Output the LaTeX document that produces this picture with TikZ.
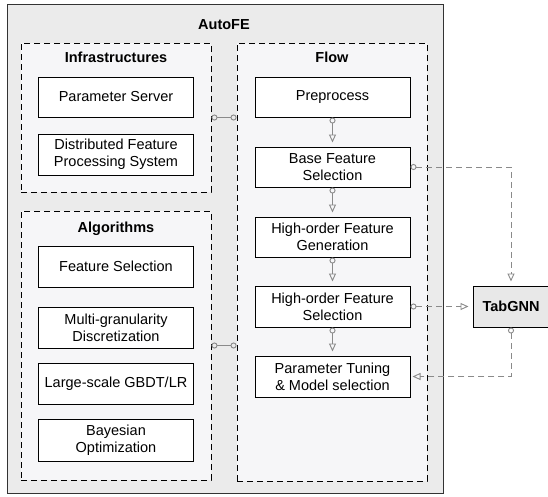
\documentclass[tikz,border=0pt]{standalone}
\usepackage{fontspec}
\setmainfont{Liberation Sans}
\usetikzlibrary{arrows.meta}
\definecolor{outerfill}{HTML}{EBEBEB}
\definecolor{groupfill}{HTML}{F6F6F8}
\definecolor{tabfill}{HTML}{E8E8E8}
\definecolor{linkgray}{HTML}{8A8A8A}
\begin{document}
\begin{tikzpicture}[x=1pt,y=-1pt,
  every node/.style={font=\fontsize{14.5}{17}\selectfont, align=center, inner sep=0pt},
  outerbox/.style={draw=black!80, line width=1pt, fill=outerfill},
  groupbox/.style={draw=black, line width=0.9pt, dash pattern=on 6pt off 4pt, fill=groupfill},
  itembox/.style={draw=black, line width=1pt, fill=white, minimum width=155pt},
  title/.style={font=\fontsize{14.5}{17}\selectfont\bfseries},
  flowlink/.style={draw=linkgray, line width=0.9pt, {Circle[open,length=6pt]}-{Triangle[open,length=8pt,width=7pt]}, shorten >=4pt},
  paired/.style={draw=linkgray, line width=0.9pt, {Circle[open,length=6pt]}-{Circle[open,length=6pt]}},
  outlink/.style={draw=linkgray, line width=0.9pt, dash pattern=on 6pt off 4pt, {Circle[open,length=6pt]}-{Triangle[open,length=8pt,width=7pt]}},
]
\useasboundingbox (0,0) rectangle (548,496);

% outer container
\node[outerbox, minimum width=436pt, minimum height=489pt] (autofe) at (225,248.5) {};
\node[title] (autofetitle) at (224,25) {AutoFE};

% groups
\node[groupbox, minimum width=190pt, minimum height=149pt] (infra) at (116,117.5) {};
\node[groupbox, minimum width=190pt, minimum height=269pt] (algo) at (116,345.5) {};
\node[groupbox, minimum width=190pt, minimum height=438pt] (flow) at (332,262) {};
\node[title] (infratitle) at (116,57) {Infrastructures};
\node[title] (algotitle) at (116,229) {Algorithms};
\node[title] (flowtitle) at (332,57) {Flow};

% infrastructure items
\node[itembox, minimum height=40pt] (ps) at (116,97) {Parameter Server};
\node[itembox, minimum height=41pt] (dfps) at (116,154.5) {Distributed Feature\\Processing System};

% algorithm items
\node[itembox, minimum height=41pt] (fs) at (116,266.5) {Feature Selection};
\node[itembox, minimum height=41pt] (mg) at (116,327.5) {Multi-granularity\\Discretization};
\node[itembox, minimum height=41pt] (ls) at (116,383.5) {Large-scale GBDT/LR};
\node[itembox, minimum height=42pt] (bo) at (116,440) {Bayesian\\Optimization};

% flow steps
\node[itembox, minimum height=40pt] (pre) at (332.5,97) {Preprocess};
\node[itembox, minimum height=40pt] (bfs) at (332.5,167) {Base Feature\\Selection};
\node[itembox, minimum height=40pt] (hfg) at (332.5,237) {High-order Feature\\Generation};
\node[itembox, minimum height=41pt] (hfs) at (332.5,306.5) {High-order Feature\\Selection};
\node[itembox, minimum height=41pt] (pt) at (332.5,376.5) {Parameter Tuning\\\& Model selection};

% external model
\node[draw=black, line width=1pt, fill=tabfill, minimum width=76pt, minimum height=41pt, font=\fontsize{14.5}{17}\selectfont\bfseries] (tab) at (511,306.5) {TabGNN};

% flow arrows
\draw[flowlink] (pre.south) -- (bfs.north);
\draw[flowlink] (bfs.south) -- (hfg.north);
\draw[flowlink] (hfg.south) -- (hfs.north);
\draw[flowlink] (hfs.south) -- (pt.north);

% group links
\draw[paired] (infra.east) -- (infra.east -| flow.west);
\draw[paired] (algo.east) -- (algo.east -| flow.west);

% links with TabGNN
\draw[outlink, shorten >=4pt] (bfs.east) -| (tab.north);
\draw[outlink, shorten >=4pt] (hfs.east) -- (tab.west);
\draw[outlink, shorten >=2pt] (tab.south) |- (pt.east);
\end{tikzpicture}
\end{document}
